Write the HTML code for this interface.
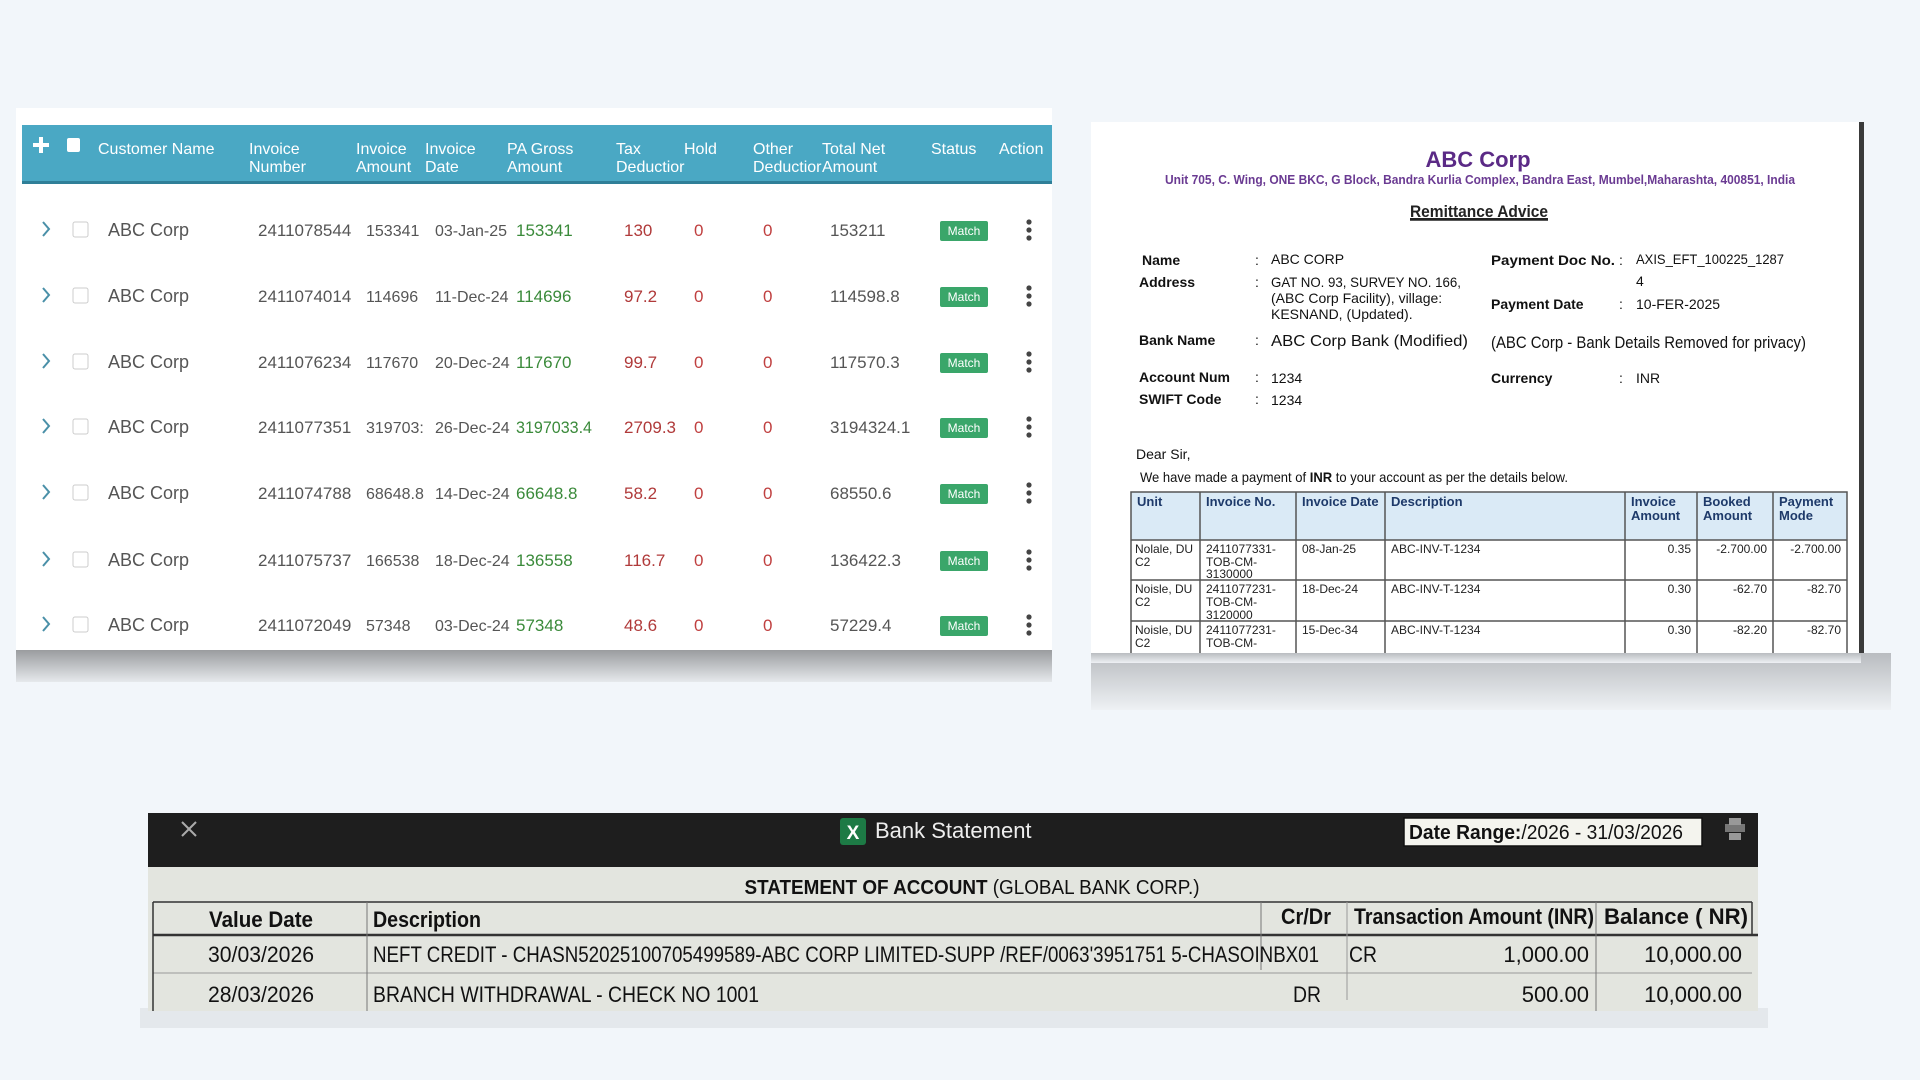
<!DOCTYPE html>
<html><head><meta charset="utf-8"><style>
html,body{margin:0;padding:0;background:#f2f6fa;}
svg{display:block}
text{font-family:"Liberation Sans",sans-serif}
.n{font-family:"Liberation Sans Narrow","Liberation Sans",sans-serif}
</style></head><body>
<svg width="1920" height="1080" viewBox="0 0 1920 1080" xmlns="http://www.w3.org/2000/svg">
<defs>
<linearGradient id="sh" x1="0" y1="0" x2="0" y2="1"><stop offset="0" stop-color="#9a9c9f"/><stop offset="1" stop-color="#e6e9ec"/></linearGradient>
<linearGradient id="sh2" x1="0" y1="0" x2="0" y2="1"><stop offset="0" stop-color="#b9bcc0"/><stop offset="1" stop-color="#eef1f4"/></linearGradient>
</defs>
<rect width="1920" height="1080" fill="#f2f6fa"/>

<!-- LEFT PANEL -->
<rect x="16" y="108" width="1036" height="542" fill="#ffffff"/>
<rect x="16" y="650" width="1036" height="32" fill="url(#sh)"/>
<rect x="22" y="125" width="1030" height="57" fill="#4aa8c4"/>
<rect x="22" y="181" width="1030" height="3" fill="#2f7f98"/>
<g fill="#fff" font-size="16">
<rect x="33" y="143" width="16" height="4" fill="#fff"/><rect x="39" y="137" width="4" height="16" fill="#fff"/>
<rect x="67" y="138" width="13" height="14" rx="2" fill="#fff"/>
<text x="98" y="154">Customer Name</text>
<text x="249" y="154">Invoice</text><text x="249" y="172">Number</text>
<text x="356" y="154">Invoice</text><text x="356" y="172">Amount</text>
<text x="425" y="154">Invoice</text><text x="425" y="172">Date</text>
<text x="507" y="154">PA Gross</text><text x="507" y="172">Amount</text>
<text x="616" y="154">Tax</text><text x="616" y="172">Deductior</text>
<text x="684" y="154">Hold</text>
<text x="753" y="154">Other</text><text x="753" y="172">Deductior</text>
<text x="822" y="154">Total Net</text><text x="822" y="172">Amount</text>
<text x="931" y="154">Status</text>
<text x="999" y="154">Action</text>
</g>
<g font-size="17" fill="#555">
<!-- rows -->
<g id="r1" transform="translate(0,230)">
<path d="M43,-8 L49,-1 L43,6" fill="none" stroke="#4a90a8" stroke-width="2"/>
<rect x="73" y="-8" width="15" height="15" rx="2" fill="#fff" stroke="#ccc"/>
<text x="108" y="6" font-size="18">ABC Corp</text>
<text x="258" y="6">2411078544</text><text x="366" y="6" font-size="16">153341</text><text x="435" y="6" font-size="16">03-Jan-25</text>
<text x="516" y="6" fill="#3a8a3a">153341</text><text x="624" y="6" fill="#b03a3a">130</text><text x="694" y="6" fill="#c04040">0</text><text x="763" y="6" fill="#c04040">0</text><text x="830" y="6">153211</text>
<rect x="940" y="-9" width="48" height="20" rx="2" fill="#3aa66a"/><text x="964" y="5" font-size="12" fill="#fff" text-anchor="middle">Match</text>
<circle cx="1029" cy="-8" r="2.6" fill="#444"/><circle cx="1029" cy="0" r="2.6" fill="#444"/><circle cx="1029" cy="8" r="2.6" fill="#444"/>
</g>
<g transform="translate(0,296)">
<path d="M43,-8 L49,-1 L43,6" fill="none" stroke="#4a90a8" stroke-width="2"/>
<rect x="73" y="-8" width="15" height="15" rx="2" fill="#fff" stroke="#ccc"/>
<text x="108" y="6" font-size="18">ABC Corp</text>
<text x="258" y="6">2411074014</text><text x="366" y="6" font-size="16">114696</text><text x="435" y="6" font-size="16">11-Dec-24</text>
<text x="516" y="6" fill="#3a8a3a">114696</text><text x="624" y="6" fill="#b03a3a">97.2</text><text x="694" y="6" fill="#c04040">0</text><text x="763" y="6" fill="#c04040">0</text><text x="830" y="6">114598.8</text>
<rect x="940" y="-9" width="48" height="20" rx="2" fill="#3aa66a"/><text x="964" y="5" font-size="12" fill="#fff" text-anchor="middle">Match</text>
<circle cx="1029" cy="-8" r="2.6" fill="#444"/><circle cx="1029" cy="0" r="2.6" fill="#444"/><circle cx="1029" cy="8" r="2.6" fill="#444"/>
</g>
<g transform="translate(0,362)">
<path d="M43,-8 L49,-1 L43,6" fill="none" stroke="#4a90a8" stroke-width="2"/>
<rect x="73" y="-8" width="15" height="15" rx="2" fill="#fff" stroke="#ccc"/>
<text x="108" y="6" font-size="18">ABC Corp</text>
<text x="258" y="6">2411076234</text><text x="366" y="6" font-size="16">117670</text><text x="435" y="6" font-size="16">20-Dec-24</text>
<text x="516" y="6" fill="#3a8a3a">117670</text><text x="624" y="6" fill="#b03a3a">99.7</text><text x="694" y="6" fill="#c04040">0</text><text x="763" y="6" fill="#c04040">0</text><text x="830" y="6">117570.3</text>
<rect x="940" y="-9" width="48" height="20" rx="2" fill="#3aa66a"/><text x="964" y="5" font-size="12" fill="#fff" text-anchor="middle">Match</text>
<circle cx="1029" cy="-8" r="2.6" fill="#444"/><circle cx="1029" cy="0" r="2.6" fill="#444"/><circle cx="1029" cy="8" r="2.6" fill="#444"/>
</g>
<g transform="translate(0,427)">
<path d="M43,-8 L49,-1 L43,6" fill="none" stroke="#4a90a8" stroke-width="2"/>
<rect x="73" y="-8" width="15" height="15" rx="2" fill="#fff" stroke="#ccc"/>
<text x="108" y="6" font-size="18">ABC Corp</text>
<text x="258" y="6">2411077351</text><text x="366" y="6" font-size="16">319703:</text><text x="435" y="6" font-size="16">26-Dec-24</text>
<text x="516" y="6" fill="#3a8a3a" textLength="76" lengthAdjust="spacingAndGlyphs">3197033.4</text><text x="624" y="6" fill="#b03a3a">2709.3</text><text x="694" y="6" fill="#c04040">0</text><text x="763" y="6" fill="#c04040">0</text><text x="830" y="6">3194324.1</text>
<rect x="940" y="-9" width="48" height="20" rx="2" fill="#3aa66a"/><text x="964" y="5" font-size="12" fill="#fff" text-anchor="middle">Match</text>
<circle cx="1029" cy="-8" r="2.6" fill="#444"/><circle cx="1029" cy="0" r="2.6" fill="#444"/><circle cx="1029" cy="8" r="2.6" fill="#444"/>
</g>
<g transform="translate(0,493)">
<path d="M43,-8 L49,-1 L43,6" fill="none" stroke="#4a90a8" stroke-width="2"/>
<rect x="73" y="-8" width="15" height="15" rx="2" fill="#fff" stroke="#ccc"/>
<text x="108" y="6" font-size="18">ABC Corp</text>
<text x="258" y="6">2411074788</text><text x="366" y="6" font-size="16">68648.8</text><text x="435" y="6" font-size="16">14-Dec-24</text>
<text x="516" y="6" fill="#3a8a3a">66648.8</text><text x="624" y="6" fill="#b03a3a">58.2</text><text x="694" y="6" fill="#c04040">0</text><text x="763" y="6" fill="#c04040">0</text><text x="830" y="6">68550.6</text>
<rect x="940" y="-9" width="48" height="20" rx="2" fill="#3aa66a"/><text x="964" y="5" font-size="12" fill="#fff" text-anchor="middle">Match</text>
<circle cx="1029" cy="-8" r="2.6" fill="#444"/><circle cx="1029" cy="0" r="2.6" fill="#444"/><circle cx="1029" cy="8" r="2.6" fill="#444"/>
</g>
<g transform="translate(0,560)">
<path d="M43,-8 L49,-1 L43,6" fill="none" stroke="#4a90a8" stroke-width="2"/>
<rect x="73" y="-8" width="15" height="15" rx="2" fill="#fff" stroke="#ccc"/>
<text x="108" y="6" font-size="18">ABC Corp</text>
<text x="258" y="6">2411075737</text><text x="366" y="6" font-size="16">166538</text><text x="435" y="6" font-size="16">18-Dec-24</text>
<text x="516" y="6" fill="#3a8a3a">136558</text><text x="624" y="6" fill="#b03a3a">116.7</text><text x="694" y="6" fill="#c04040">0</text><text x="763" y="6" fill="#c04040">0</text><text x="830" y="6">136422.3</text>
<rect x="940" y="-9" width="48" height="20" rx="2" fill="#3aa66a"/><text x="964" y="5" font-size="12" fill="#fff" text-anchor="middle">Match</text>
<circle cx="1029" cy="-8" r="2.6" fill="#444"/><circle cx="1029" cy="0" r="2.6" fill="#444"/><circle cx="1029" cy="8" r="2.6" fill="#444"/>
</g>
<g transform="translate(0,625)">
<path d="M43,-8 L49,-1 L43,6" fill="none" stroke="#4a90a8" stroke-width="2"/>
<rect x="73" y="-8" width="15" height="15" rx="2" fill="#fff" stroke="#ccc"/>
<text x="108" y="6" font-size="18">ABC Corp</text>
<text x="258" y="6">2411072049</text><text x="366" y="6" font-size="16">57348</text><text x="435" y="6" font-size="16">03-Dec-24</text>
<text x="516" y="6" fill="#3a8a3a">57348</text><text x="624" y="6" fill="#b03a3a">48.6</text><text x="694" y="6" fill="#c04040">0</text><text x="763" y="6" fill="#c04040">0</text><text x="830" y="6">57229.4</text>
<rect x="940" y="-9" width="48" height="20" rx="2" fill="#3aa66a"/><text x="964" y="5" font-size="12" fill="#fff" text-anchor="middle">Match</text>
<circle cx="1029" cy="-8" r="2.6" fill="#444"/><circle cx="1029" cy="0" r="2.6" fill="#444"/><circle cx="1029" cy="8" r="2.6" fill="#444"/>
</g>
</g>

<!-- RIGHT PANEL -->
<rect x="1091" y="653" width="800" height="57" fill="url(#sh2)"/>
<rect x="1091" y="122" width="770" height="531" fill="#ffffff"/>
<rect x="1859" y="122" width="5" height="531" fill="#3a3a3a"/>
<text x="1478" y="167" font-size="22" font-weight="bold" fill="#5b2a86" text-anchor="middle" class="n">ABC Corp</text>
<text x="1480" y="184" font-size="13" font-weight="bold" fill="#6a3a92" text-anchor="middle" textLength="630" lengthAdjust="spacingAndGlyphs">Unit 705, C. Wing, ONE BKC, G Block, Bandra Kurlia Complex, Bandra East, Mumbel,Maharashta, 400851, India</text>
<text x="1479" y="217" font-size="17" font-weight="bold" fill="#222" text-anchor="middle" text-decoration="underline" textLength="138" lengthAdjust="spacingAndGlyphs">Remittance Advice</text>
<line x1="1410" y1="220" x2="1548" y2="220" stroke="#222" stroke-width="1.5"/>
<g font-size="14" fill="#111">
<g font-weight="bold"><text x="1142" y="265">Name</text><text x="1139" y="287">Address</text><text x="1139" y="345">Bank Name</text><text x="1139" y="382">Account Num</text><text x="1139" y="404">SWIFT Code</text>
<text x="1491" y="265" textLength="124" lengthAdjust="spacingAndGlyphs">Payment Doc No.</text><text x="1491" y="309">Payment Date</text><text x="1491" y="383">Currency</text></g>
<text x="1255" y="265">:</text><text x="1255" y="287">:</text><text x="1255" y="345">:</text><text x="1255" y="382">:</text><text x="1255" y="404">:</text>
<text x="1619" y="265">:</text><text x="1619" y="309">:</text><text x="1619" y="383">:</text>
<text x="1271" y="264">ABC CORP</text>
<text x="1271" y="287" textLength="190" lengthAdjust="spacingAndGlyphs">GAT NO. 93, SURVEY NO. 166,</text>
<text x="1271" y="303">(ABC Corp Facility), village:</text>
<text x="1271" y="319">KESNAND, (Updated).</text>
<text x="1271" y="346" font-size="16" textLength="197" lengthAdjust="spacingAndGlyphs">ABC Corp Bank (Modified)</text>
<text x="1271" y="383">1234</text><text x="1271" y="405">1234</text>
<text x="1636" y="264" textLength="148" lengthAdjust="spacingAndGlyphs">AXIS_EFT_100225_1287</text>
<text x="1636" y="286">4</text>
<text x="1636" y="309">10-FER-2025</text>
<text x="1636" y="383">INR</text>
<text x="1491" y="348" font-size="17" textLength="315" lengthAdjust="spacingAndGlyphs">(ABC Corp - Bank Details Removed for privacy)</text>
<text x="1136" y="459">Dear Sir,</text>
<text x="1140" y="482" textLength="428" lengthAdjust="spacingAndGlyphs">We have made a payment of <tspan font-weight="bold">INR</tspan>  to your account as per the details below.</text>
</g>
<rect x="1131" y="492" width="716" height="48" fill="#daeaf6"/>
<g stroke="#555" stroke-width="1.5" fill="none">
<rect x="1131" y="492" width="716" height="170"/>
<line x1="1131" y1="540" x2="1847" y2="540"/><line x1="1131" y1="580" x2="1847" y2="580"/><line x1="1131" y1="621" x2="1847" y2="621"/>
<line x1="1200" y1="492" x2="1200" y2="653"/><line x1="1296" y1="492" x2="1296" y2="653"/><line x1="1385" y1="492" x2="1385" y2="653"/><line x1="1625" y1="492" x2="1625" y2="653"/><line x1="1697" y1="492" x2="1697" y2="653"/><line x1="1773" y1="492" x2="1773" y2="653"/>
</g>
<g font-size="13" font-weight="bold" fill="#1e3a6a">
<text x="1137" y="506">Unit</text><text x="1206" y="506">Invoice No.</text><text x="1302" y="506">Invoice Date</text><text x="1391" y="506">Description</text>
<text x="1631" y="506">Invoice</text><text x="1631" y="520">Amount</text><text x="1703" y="506">Booked</text><text x="1703" y="520">Amount</text><text x="1779" y="506">Payment</text><text x="1779" y="520">Mode</text>
</g>
<g font-size="12" fill="#222">
<text x="1135" y="553">Nolale, DU</text><text x="1135" y="566">C2</text>
<text x="1206" y="553">2411077331-</text><text x="1206" y="566">TOB-CM-</text><text x="1206" y="578">3130000</text>
<text x="1302" y="553">08-Jan-25</text><text x="1391" y="553">ABC-INV-T-1234</text>
<text x="1691" y="553" text-anchor="end">0.35</text><text x="1767" y="553" text-anchor="end">-2.700.00</text><text x="1841" y="553" text-anchor="end">-2.700.00</text>
<text x="1135" y="593">Noisle, DU</text><text x="1135" y="606">C2</text>
<text x="1206" y="593">2411077231-</text><text x="1206" y="606">TOB-CM-</text><text x="1206" y="619">3120000</text>
<text x="1302" y="593">18-Dec-24</text><text x="1391" y="593">ABC-INV-T-1234</text>
<text x="1691" y="593" text-anchor="end">0.30</text><text x="1767" y="593" text-anchor="end">-62.70</text><text x="1841" y="593" text-anchor="end">-82.70</text>
<text x="1135" y="634">Noisle, DU</text><text x="1135" y="647">C2</text>
<text x="1206" y="634">2411077231-</text><text x="1206" y="647">TOB-CM-</text>
<text x="1302" y="634">15-Dec-34</text><text x="1391" y="634">ABC-INV-T-1234</text>
<text x="1691" y="634" text-anchor="end">0.30</text><text x="1767" y="634" text-anchor="end">-82.20</text><text x="1841" y="634" text-anchor="end">-82.70</text>
</g>
<rect x="1091" y="653" width="770" height="10" fill="url(#sh2)"/>

<!-- BOTTOM PANEL -->
<rect x="140" y="1008" width="1628" height="20" fill="#e4e8ec"/>
<rect x="148" y="813" width="1610" height="54" fill="#1e1e1e"/>
<rect x="148" y="867" width="1610" height="144" fill="#e3e5df"/>
<g stroke="#aaa" stroke-width="2"><line x1="182" y1="822" x2="196" y2="836"/><line x1="196" y1="822" x2="182" y2="836"/></g>
<rect x="840" y="818" width="26" height="27" rx="3" fill="#1d7a45"/>
<text x="853" y="839" font-size="19" fill="#fff" text-anchor="middle" font-weight="bold">X</text>
<text x="875" y="838" font-size="22" fill="#eee">Bank Statement</text>
<rect x="1404" y="818" width="298" height="28" fill="#f4f4ee" stroke="#111" stroke-width="1.5"/>
<text x="1409" y="839" font-size="20" fill="#111" class="n" textLength="274" lengthAdjust="spacingAndGlyphs"><tspan font-weight="bold">Date Range:</tspan>/2026 - 31/03/2026</text>
<rect x="1725" y="824" width="20" height="8" fill="#777"/><rect x="1729" y="818" width="12" height="7" fill="#999"/><rect x="1729" y="833" width="12" height="7" fill="#999"/>
<text x="972" y="894" font-size="20" fill="#111" text-anchor="middle" class="n" textLength="455" lengthAdjust="spacingAndGlyphs"><tspan font-weight="bold">STATEMENT OF ACCOUNT</tspan> (GLOBAL BANK CORP.)</text>
<g stroke="#333" fill="none">
<line x1="153" y1="902" x2="1752" y2="902" stroke-width="1.5"/>
<line x1="153" y1="935" x2="1758" y2="935" stroke-width="2.5"/>
<line x1="153" y1="973" x2="1752" y2="973" stroke-width="1" stroke="#999"/>
<line x1="153" y1="902" x2="153" y2="1011" stroke-width="1.5"/>
<line x1="367" y1="902" x2="367" y2="1011" stroke-width="1" stroke="#777"/>
<line x1="1261" y1="902" x2="1261" y2="970" stroke-width="1" stroke="#777"/>
<line x1="1347" y1="902" x2="1347" y2="1000" stroke-width="1" stroke="#999"/>
<line x1="1596" y1="902" x2="1596" y2="1011" stroke-width="1" stroke="#777"/>
<line x1="1752" y1="902" x2="1752" y2="935" stroke-width="1.5"/>
</g>
<g font-size="22" fill="#111" class="n">
<g font-weight="bold">
<text x="261" y="927" text-anchor="middle" textLength="104" lengthAdjust="spacingAndGlyphs">Value Date</text>
<text x="373" y="927" textLength="108" lengthAdjust="spacingAndGlyphs">Description</text>
<text x="1281" y="924" textLength="50" lengthAdjust="spacingAndGlyphs">Cr/Dr</text>
<text x="1354" y="924" textLength="240" lengthAdjust="spacingAndGlyphs">Transaction Amount (INR)</text>
<text x="1604" y="924" textLength="144" lengthAdjust="spacingAndGlyphs">Balance ( NR)</text>
</g>
<text x="261" y="962" text-anchor="middle" textLength="106" lengthAdjust="spacingAndGlyphs">30/03/2026</text>
<text x="373" y="962" textLength="946" lengthAdjust="spacingAndGlyphs">NEFT CREDIT - CHASN52025100705499589-ABC CORP LIMITED-SUPP /REF/0063'3951751 5-CHASOINBX01</text>
<text x="1349" y="962" textLength="28" lengthAdjust="spacingAndGlyphs">CR</text>
<text x="1589" y="962" text-anchor="end">1,000.00</text>
<text x="1742" y="962" text-anchor="end">10,000.00</text>
<text x="261" y="1002" text-anchor="middle" textLength="106" lengthAdjust="spacingAndGlyphs">28/03/2026</text>
<text x="373" y="1002" textLength="386" lengthAdjust="spacingAndGlyphs">BRANCH WITHDRAWAL - CHECK NO  1001</text>
<text x="1293" y="1002" textLength="28" lengthAdjust="spacingAndGlyphs">DR</text>
<text x="1589" y="1002" text-anchor="end">500.00</text>
<text x="1742" y="1002" text-anchor="end">10,000.00</text>
</g>
</svg>
</body></html>
